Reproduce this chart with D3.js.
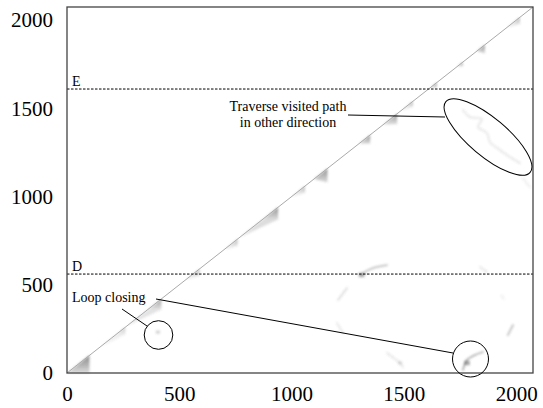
<!DOCTYPE html>
<html>
<head>
<meta charset="utf-8">
<script src="https://cdn.jsdelivr.net/npm/d3@7"></script>
<style>
  body { margin: 0; background: #fff; }
  svg, svg text { font-family: "Liberation Serif", "Times New Roman", Times, "DejaVu Serif", serif; }
</style>
</head>
<body>
<div id="chart"></div>
<script>
// data
const xTicks = [0, 500, 1000, 1500, 2000];
const yTicks = [0, 500, 1000, 1500, 2000];
const maxIndex = 2075;

// horizontal markers
const markers = [
  { label: "D", value: 561 },
  { label: "E", value: 1610 }
];

// similarity patches hanging under the diagonal: [start, end, depth, shade]
const diagPatches = [
  [0, 100, 100, 0.7],
  [150, 260, 40, 0.35],
  [270, 420, 60, 0.55],
  [530, 590, 40, 0.45],
  [700, 760, 40, 0.45],
  [770, 940, 70, 0.65],
  [1000, 1060, 40, 0.45],
  [1100, 1160, 80, 0.65],
  [1300, 1350, 50, 0.65],
  [1407, 1470, 60, 0.6],
  [1490, 1540, 30, 0.5],
  [1616, 1647, 30, 0.6],
  [1736, 1763, 25, 0.55],
  [1825, 1861, 50, 0.6],
  [1959, 2017, 40, 0.45]
];

// off-diagonal matches (x, y pairs), with shade
const offTracks = [
  { shade: 0.15, pts: [[1763, 1491], [1794, 1451], [1848, 1440], [1830, 1395], [1870, 1361], [1883, 1310], [1928, 1264], [1972, 1224], [2017, 1190]] },
  { shade: 0.1, pts: [[2030, 1105], [2061, 1054]] },
  { shade: 0.35, pts: [[1318, 567], [1362, 595], [1425, 612]] },
  { shade: 0.2, pts: [[1247, 482], [1207, 414]] },
  { shade: 0.15, pts: [[1202, 283], [1229, 227]] },
  { shade: 0.15, pts: [[1425, 113], [1460, 80], [1483, 57], [1496, 34]] },
  { shade: 0.45, pts: [[1763, 17], [1781, 74], [1817, 102], [1852, 119]] },
  { shade: 0.35, pts: [[1986, 272], [1963, 215]] },
  { shade: 0.15, pts: [[1839, 601], [1870, 573]] },
  { shade: 0.1, pts: [[1935, 440], [1945, 420]] }
];
// compact blobs: [x, y, radius, shade]
const blobs = [
  [1312, 556, 25, 0.5],
  [1781, 57, 25, 0.5],
  [1483, 57, 18, 0.2],
  [405, 232, 18, 0.25]
];

//////////////  Init  //////////////
const width = 543, height = 408;
const margin = { top: 7, right: 10, bottom: 35, left: 67 };
const serif = '"Liberation Serif", "Times New Roman", Times, "DejaVu Serif", serif';

const svg = d3.select("#chart").append("svg")
  .attr("width", width).attr("height", height);

const defs = svg.append("defs");
defs.append("filter").attr("id", "soft")
  .append("feGaussianBlur").attr("stdDeviation", 1);

const xScale = d3.scaleLinear().domain([0, maxIndex]).range([margin.left, width - margin.right]);
const yScale = d3.scaleLinear().domain([0, maxIndex]).range([height - margin.bottom, margin.top]);

// patches
const gPatch = svg.append("g").attr("filter", "url(#soft)");
diagPatches.forEach(([s, e, dpt, shade], i) => {
  const gid = "pg" + i;
  const grad = defs.append("linearGradient").attr("id", gid)
    .attr("gradientUnits", "userSpaceOnUse")
    .attr("x1", xScale(e)).attr("y1", yScale(e))
    .attr("x2", xScale(e)).attr("y2", yScale(e - dpt));
  grad.append("stop").attr("offset", 0).attr("stop-color", "#555").attr("stop-opacity", shade);
  grad.append("stop").attr("offset", 1).attr("stop-color", "#555").attr("stop-opacity", shade * 0.3);
  gPatch.append("path")
    .attr("d", d3.line()([
      [xScale(s), yScale(s)],
      [xScale(e), yScale(e)],
      [xScale(e), yScale(e - dpt)]
    ]) + "Z")
    .attr("fill", `url(#${gid})`);
});

offTracks.forEach((t) => {
  gPatch.append("path")
    .attr("d", d3.line().curve(d3.curveCatmullRom)
      .x((d) => xScale(d[0])).y((d) => yScale(d[1]))(t.pts))
    .attr("fill", "none")
    .attr("stroke", "#555")
    .attr("stroke-opacity", t.shade)
    .attr("stroke-width", 1.8)
    .attr("stroke-linecap", "round");
});

blobs.forEach(([x, y, r, shade]) => {
  gPatch.append("rect")
    .attr("x", xScale(x - r / 2)).attr("y", yScale(y + r / 2))
    .attr("width", xScale(r) - xScale(0))
    .attr("height", yScale(0) - yScale(r))
    .attr("fill", "#555")
    .attr("fill-opacity", shade);
});

// diagonal
svg.append("line")
  .attr("x1", xScale(0)).attr("y1", yScale(0))
  .attr("x2", xScale(maxIndex)).attr("y2", yScale(maxIndex))
  .attr("stroke", "#aaa").attr("stroke-width", 1);

// markers
markers.forEach((m) => {
  svg.append("line")
    .attr("x1", xScale(0)).attr("x2", xScale(maxIndex))
    .attr("y1", yScale(m.value)).attr("y2", yScale(m.value))
    .attr("stroke", "#000").attr("stroke-width", 1)
    .attr("stroke-dasharray", "2.5,1.5");
  svg.append("text")
    .attr("x", xScale(0) + 5).attr("y", yScale(m.value) - 3.5)
    .attr("font-family", serif)
    .attr("font-size", 14)
    .text(m.label);
});

// frame
svg.append("rect")
  .attr("x", margin.left).attr("y", margin.top)
  .attr("width", width - margin.left - margin.right)
  .attr("height", height - margin.top - margin.bottom)
  .attr("fill", "none").attr("stroke", "#444").attr("stroke-width", 1.3);

// axes
const xAxis = d3.axisBottom(xScale).tickValues(xTicks).tickFormat(d3.format("d")).tickSize(0).tickPadding(13);
const yAxis = d3.axisLeft(yScale).tickValues(yTicks).tickFormat(d3.format("d")).tickSize(0).tickPadding(14);

svg.append("g")
  .attr("transform", `translate(0,${height - margin.bottom})`)
  .call(xAxis)
  .attr("font-family", serif).attr("font-size", 21)
  .call((g) => g.select(".domain").remove())
  .selectAll("text").attr("fill", "#000");

svg.append("g")
  .attr("transform", `translate(${margin.left},0)`)
  .call(yAxis)
  .attr("font-family", serif).attr("font-size", 21)
  .call((g) => g.select(".domain").remove())
  .selectAll("text").attr("fill", "#000");

// annotations
const ann = svg.append("g").attr("fill", "none").attr("stroke", "#000").attr("stroke-width", 1);

// loop closing
ann.append("circle").attr("cx", 158.5).attr("cy", 335).attr("r", 14.3);
ann.append("circle").attr("cx", 470.5).attr("cy", 359).attr("r", 18);
ann.append("line").attr("x1", 156).attr("y1", 299).attr("x2", 453).attr("y2", 353);
ann.append("line").attr("x1", 122).attr("y1", 309).attr("x2", 147).attr("y2", 326);

svg.append("text")
  .attr("x", 72).attr("y", 301.5)
  .attr("font-family", serif)
  .attr("font-size", 14)
  .text("Loop closing");

// traverse visited path
ann.append("ellipse")
  .attr("cx", 0).attr("cy", 0).attr("rx", 55).attr("ry", 19)
  .attr("transform", "translate(488,137) rotate(40)");
ann.append("line").attr("x1", 348).attr("y1", 115).attr("x2", 445).attr("y2", 117);

const tv = svg.append("text").attr("font-family", serif).attr("font-size", 14).attr("text-anchor", "middle");
tv.append("tspan").attr("x", 288).attr("y", 111).text("Traverse visited path");
tv.append("tspan").attr("x", 288).attr("y", 126.5).text("in other direction");
</script>
</body>
</html>
